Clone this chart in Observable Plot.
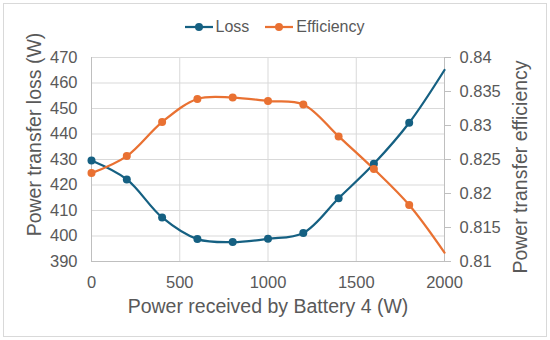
<!DOCTYPE html>
<html><head><meta charset="utf-8">
<script src="https://cdn.jsdelivr.net/npm/d3@7"></script>
<script src="https://cdn.jsdelivr.net/npm/@observablehq/plot@0.6"></script>
<style>
body{margin:0;background:#fff;}
#wrap{position:relative;width:550px;height:340px;font-family:"Liberation Sans",Arial,sans-serif;color:#595959;overflow:hidden;}
#border{position:absolute;left:3px;top:3px;width:544px;height:334px;border:1px solid #d9d9d9;box-sizing:border-box;}
#legend{position:absolute;left:0;top:17px;width:549px;height:20px;display:flex;justify-content:center;align-items:center;font-size:16px;}
.item{display:flex;align-items:center;margin:0 8px;}
.item svg{margin-right:3px;}
#chart{position:absolute;left:0;top:0;}
</style></head>
<body>
<div id="wrap"><div id="border"></div><div id="legend"></div><div id="chart"></div></div>
<script>
const power = [0, 200, 400, 600, 800, 1000, 1200, 1400, 1600, 1800, 2000];
const loss = [429.6, 422.2, 407.3, 398.8, 397.6, 398.9, 401.2, 414.8, 428.3, 444.4, 465.1];
const efficiency = [0.8230, 0.8255, 0.8305, 0.8339, 0.8341, 0.8336, 0.8331, 0.8284, 0.8236, 0.8183, 0.8113];
const xTicks = [0, 500, 1000, 1500, 2000];
const lossTicks = [390, 400, 410, 420, 430, 440, 450, 460, 470];
const effTicks = [0.81, 0.815, 0.82, 0.825, 0.83, 0.835, 0.84];
const seriesNames = ["Loss", "Efficiency"];
const seriesColors = ["#156082", "#E97132"];
const xTitle = "Power received by Battery 4 (W)";
const yLeftTitle = "Power transfer loss (W)";
const yRightTitle = "Power transfer efficiency";

const Y0 = lossTicks[0], Y1 = lossTicks[lossTicks.length - 1];
const E0 = effTicks[0], E1 = effTicks[effTicks.length - 1];
const toLoss = e => Y0 + (e - E0) * (Y1 - Y0) / (E1 - E0);
const fromLoss = v => E0 + (v - Y0) * (E1 - E0) / (Y1 - Y0);

const lossData = power.map((p, i) => ({p, v: loss[i]}));
const effData = power.map((p, i) => ({p, v: toLoss(efficiency[i])}));
const lastX = power[power.length - 1];

const font = '"Liberation Sans", Arial, sans-serif';
const txt = "#595959";
const titleOpts = {text: d => d, textAnchor: "middle", lineAnchor: "middle", fontSize: 19.5, fill: txt};

const chart = Plot.plot({
  width: 550, height: 340,
  marginLeft: 91, marginRight: 106, marginTop: 57, marginBottom: 79,
  style: {fontFamily: font, fontSize: "16.5px", color: txt, background: "transparent"},
  x: {domain: [xTicks[0], xTicks[xTicks.length - 1]]},
  y: {domain: [Y0, Y1]},
  marks: [
    Plot.gridX(xTicks, {stroke: "#d9d9d9", strokeOpacity: 1}),
    Plot.gridY(lossTicks, {stroke: "#d9d9d9", strokeOpacity: 1}),
    Plot.frame({anchor: "left", stroke: "#bfbfbf"}),
    Plot.frame({anchor: "bottom", stroke: "#bfbfbf"}),
    Plot.frame({anchor: "right", stroke: "#bfbfbf"}),
    Plot.axisX(xTicks, {tickSize: 0, tickPadding: 15, label: null, fill: txt, tickFormat: d => String(d)}),
    Plot.axisY(lossTicks, {anchor: "left", tickSize: 0, tickPadding: 14, label: null, fill: txt, tickFormat: d => String(d)}),
    Plot.axisY(effTicks.map(toLoss), {anchor: "right", tickSize: 6, tickPadding: 9, label: null,
      stroke: "#bfbfbf", fill: txt, tickFormat: d => String(+fromLoss(d).toFixed(3))}),
    Plot.line(lossData, {x: "p", y: "v", stroke: seriesColors[0], strokeWidth: 2.25, curve: "catmull-rom"}),
    Plot.line(effData, {x: "p", y: "v", stroke: seriesColors[1], strokeWidth: 2.25, curve: "catmull-rom"}),
    Plot.dot(lossData.filter(d => d.p < lastX), {x: "p", y: "v", r: 4, fill: seriesColors[0], stroke: null}),
    Plot.dot(effData.filter(d => d.p < lastX), {x: "p", y: "v", r: 4, fill: seriesColors[1], stroke: null}),
    Plot.text([yLeftTitle], {...titleOpts, frameAnchor: "left", rotate: -90, dx: -57, dy: -25}),
    Plot.text([yRightTitle], {...titleOpts, frameAnchor: "right", rotate: -90, dx: 76, dy: 7.5}),
    Plot.text([xTitle], {...titleOpts, frameAnchor: "bottom", dy: 45})
  ]
});
document.getElementById("chart").appendChild(chart);

const legend = document.getElementById("legend");
seriesNames.forEach((name, i) => {
  const item = document.createElement("div");
  item.className = "item";
  item.innerHTML = `<svg width="28" height="10"><line x1="0" y1="5" x2="28" y2="5" stroke="${seriesColors[i]}" stroke-width="2.25"/><circle cx="14" cy="5" r="4" fill="${seriesColors[i]}"/></svg><span>${name}</span>`;
  legend.appendChild(item);
});
</script>
</body></html>
